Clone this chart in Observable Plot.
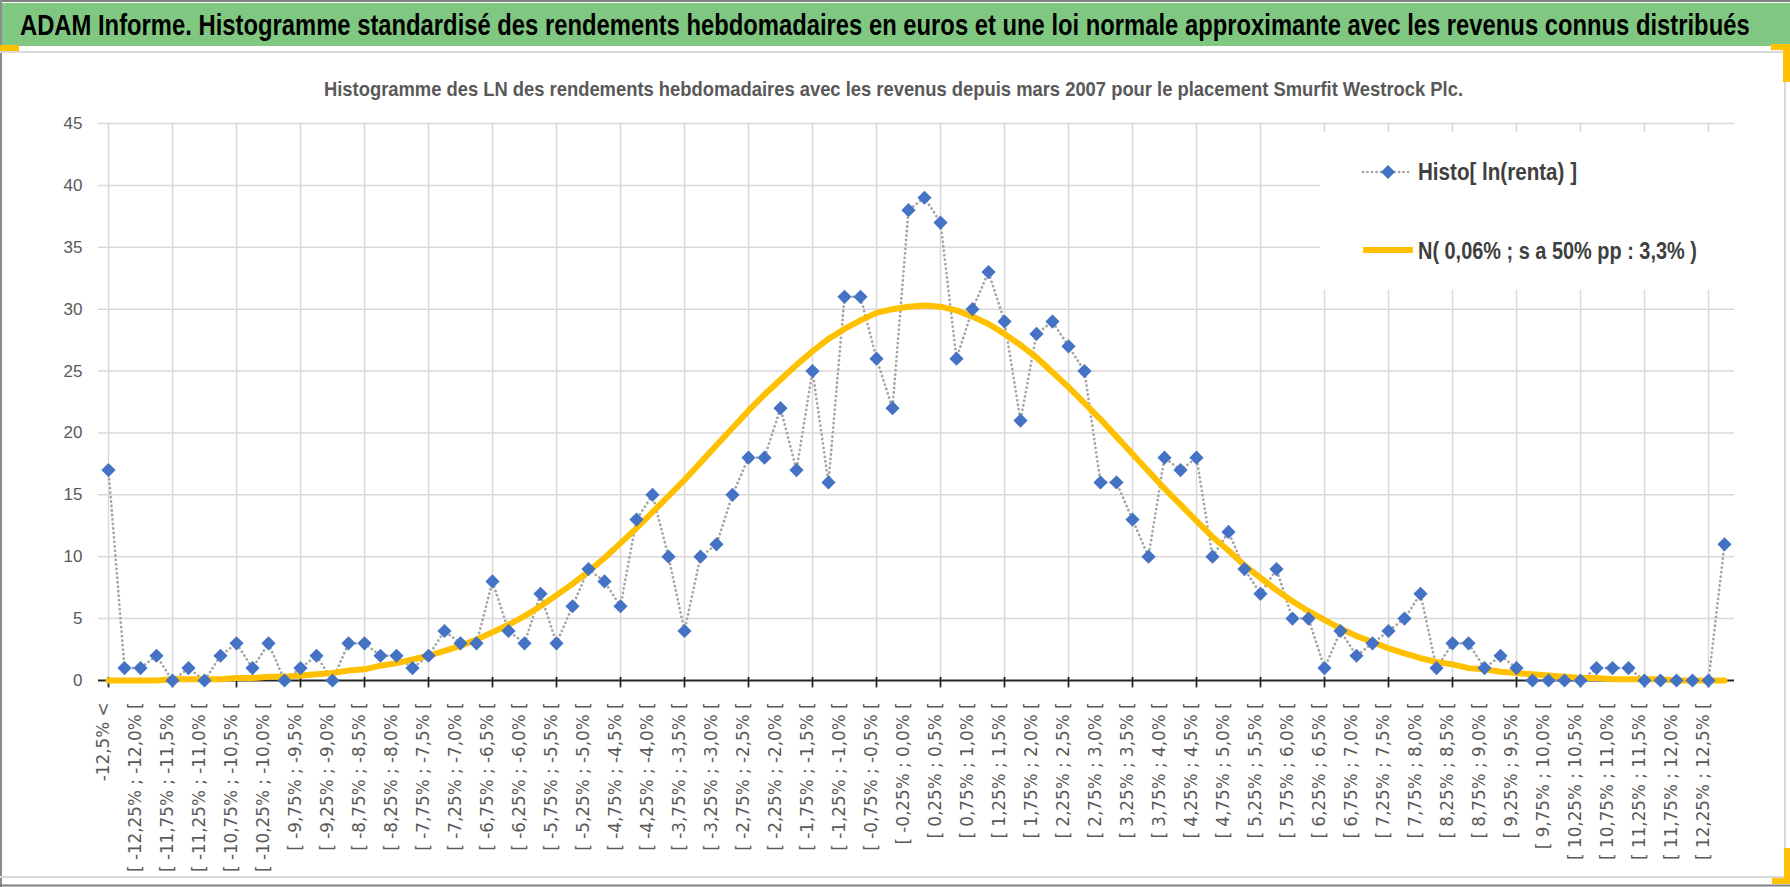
<!DOCTYPE html>
<html>
<head>
<meta charset="utf-8">
<script src="https://cdn.jsdelivr.net/npm/d3@7"></script>
<script src="https://cdn.jsdelivr.net/npm/@observablehq/plot@0.6"></script>
<style>
html, body { margin: 0; padding: 0; background: #fff; }
#wrap { position: relative; width: 1790px; height: 887px; overflow: hidden; background: #fff; }
#wrap > svg { position: absolute; left: 0; top: 0; }
#overlay { pointer-events: none; }
</style>
</head>
<body>
<div id="wrap"></div>
<script>
// ---------- DATA ----------
const mainTitle = "ADAM Informe. Histogramme standardisé des rendements hebdomadaires en euros et une loi normale approximante avec les revenus connus distribués";
const subTitle = "Histogramme  des LN des rendements hebdomadaires avec les revenus depuis mars 2007 pour le placement Smurfit Westrock  Plc.";
const seriesNames = ["Histo[ ln(renta) ]", "N( 0,06% ; s a 50% pp : 3,3% )"];

const categories = [
  "-12,5% <",
  "[ -12,5% ; -12,25% [", "[ -12,25% ; -12,0% [", "[ -12,0% ; -11,75% [", "[ -11,75% ; -11,5% [",
  "[ -11,5% ; -11,25% [", "[ -11,25% ; -11,0% [", "[ -11,0% ; -10,75% [", "[ -10,75% ; -10,5% [",
  "[ -10,5% ; -10,25% [", "[ -10,25% ; -10,0% [", "[ -10,0% ; -9,75% [", "[ -9,75% ; -9,5% [",
  "[ -9,5% ; -9,25% [", "[ -9,25% ; -9,0% [", "[ -9,0% ; -8,75% [", "[ -8,75% ; -8,5% [",
  "[ -8,5% ; -8,25% [", "[ -8,25% ; -8,0% [", "[ -8,0% ; -7,75% [", "[ -7,75% ; -7,5% [",
  "[ -7,5% ; -7,25% [", "[ -7,25% ; -7,0% [", "[ -7,0% ; -6,75% [", "[ -6,75% ; -6,5% [",
  "[ -6,5% ; -6,25% [", "[ -6,25% ; -6,0% [", "[ -6,0% ; -5,75% [", "[ -5,75% ; -5,5% [",
  "[ -5,5% ; -5,25% [", "[ -5,25% ; -5,0% [", "[ -5,0% ; -4,75% [", "[ -4,75% ; -4,5% [",
  "[ -4,5% ; -4,25% [", "[ -4,25% ; -4,0% [", "[ -4,0% ; -3,75% [", "[ -3,75% ; -3,5% [",
  "[ -3,5% ; -3,25% [", "[ -3,25% ; -3,0% [", "[ -3,0% ; -2,75% [", "[ -2,75% ; -2,5% [",
  "[ -2,5% ; -2,25% [", "[ -2,25% ; -2,0% [", "[ -2,0% ; -1,75% [", "[ -1,75% ; -1,5% [",
  "[ -1,5% ; -1,25% [", "[ -1,25% ; -1,0% [", "[ -1,0% ; -0,75% [", "[ -0,75% ; -0,5% [",
  "[ -0,5% ; -0,25% [", "[ -0,25% ; 0,0% [", "[ 0,0% ; 0,25% [", "[ 0,25% ; 0,5% [",
  "[ 0,5% ; 0,75% [", "[ 0,75% ; 1,0% [", "[ 1,0% ; 1,25% [", "[ 1,25% ; 1,5% [",
  "[ 1,5% ; 1,75% [", "[ 1,75% ; 2,0% [", "[ 2,0% ; 2,25% [", "[ 2,25% ; 2,5% [",
  "[ 2,5% ; 2,75% [", "[ 2,75% ; 3,0% [", "[ 3,0% ; 3,25% [", "[ 3,25% ; 3,5% [",
  "[ 3,5% ; 3,75% [", "[ 3,75% ; 4,0% [", "[ 4,0% ; 4,25% [", "[ 4,25% ; 4,5% [",
  "[ 4,5% ; 4,75% [", "[ 4,75% ; 5,0% [", "[ 5,0% ; 5,25% [", "[ 5,25% ; 5,5% [",
  "[ 5,5% ; 5,75% [", "[ 5,75% ; 6,0% [", "[ 6,0% ; 6,25% [", "[ 6,25% ; 6,5% [",
  "[ 6,5% ; 6,75% [", "[ 6,75% ; 7,0% [", "[ 7,0% ; 7,25% [", "[ 7,25% ; 7,5% [",
  "[ 7,5% ; 7,75% [", "[ 7,75% ; 8,0% [", "[ 8,0% ; 8,25% [", "[ 8,25% ; 8,5% [",
  "[ 8,5% ; 8,75% [", "[ 8,75% ; 9,0% [", "[ 9,0% ; 9,25% [", "[ 9,25% ; 9,5% [",
  "[ 9,5% ; 9,75% [", "[ 9,75% ; 10,0% [", "[ 10,0% ; 10,25% [", "[ 10,25% ; 10,5% [",
  "[ 10,5% ; 10,75% [", "[ 10,75% ; 11,0% [", "[ 11,0% ; 11,25% [", "[ 11,25% ; 11,5% [",
  "[ 11,5% ; 11,75% [", "[ 11,75% ; 12,0% [", "[ 12,0% ; 12,25% [", "[ 12,25% ; 12,5% [",
  "> 12,5%"
];

const histoValues = [
  17,
  1, 1, 2, 0, 1, 0, 2, 3, 1, 3,
  0, 1, 2, 0, 3, 3, 2, 2, 1, 2,
  4, 3, 3, 8, 4, 3, 7, 3, 6, 9,
  8, 6, 13, 15, 10, 4, 10, 11, 15, 18,
  18, 22, 17, 25, 16, 31, 31, 26, 22, 38,
  39, 37, 26, 30, 33, 29, 21, 28, 29, 27,
  25, 16, 16, 13, 10, 18, 17, 18, 10, 12,
  9, 7, 9, 5, 5, 1, 4, 2, 3, 4,
  5, 7, 1, 3, 3, 1, 2, 1, 0, 0,
  0, 0, 1, 1, 1, 0, 0, 0, 0, 0,
  11
];

const normValues = [
  0.0,
  0.0, 0.0, 0.0, 0.1, 0.1, 0.1, 0.1, 0.2, 0.2, 0.3,
  0.3, 0.4, 0.5, 0.6, 0.8, 0.9, 1.2, 1.4, 1.7, 2.0,
  2.4, 2.8, 3.3, 3.9, 4.5, 5.2, 6.0, 6.9, 7.8, 8.8,
  9.9, 11.1, 12.3, 13.6, 14.9, 16.2, 17.6, 19.0, 20.4, 21.8,
  23.1, 24.3, 25.5, 26.6, 27.6, 28.4, 29.1, 29.7, 30.0, 30.2,
  30.3, 30.2, 29.9, 29.4, 28.8, 28.0, 27.1, 26.1, 24.9, 23.7,
  22.4, 21.1, 19.7, 18.3, 16.9, 15.5, 14.2, 12.9, 11.6, 10.5,
  9.3, 8.3, 7.3, 6.4, 5.6, 4.9, 4.2, 3.6, 3.1, 2.6,
  2.2, 1.8, 1.5, 1.3, 1.0, 0.9, 0.7, 0.6, 0.5, 0.4,
  0.3, 0.2, 0.2, 0.1, 0.1, 0.1, 0.1, 0.0, 0.0, 0.0,
  0.0
];

const yTicks = [0, 5, 10, 15, 20, 25, 30, 35, 40, 45];

// ---------- BUILD ----------
const rows = categories.map((c, i) => ({cat: c, histo: histoValues[i], norm: normValues[i]}));
const labelCats = categories.filter((c, i) => i % 2 === 0);
const gridCats = categories.filter((c, i) => i % 4 === 0);

const W = 1790, H = 887;
const plot = Plot.plot({
  width: W,
  height: H,
  marginLeft: 98,
  marginRight: 56,
  marginTop: 123,
  marginBottom: 207,
  style: {fontFamily: "'Liberation Sans', Arial, sans-serif", background: "transparent", overflow: "visible"},
  x: {type: "point", domain: categories, padding: 0, axis: null},
  y: {domain: [0, 45]},
  marks: [
    Plot.ruleY(yTicks.filter(v => v > 0), {stroke: "#d9d9d9", strokeWidth: 1.5}),
    Plot.ruleX(gridCats, {x: d => d, stroke: "#d9d9d9", strokeWidth: 1.5}),
    Plot.axisY({ticks: yTicks, tickSize: 0, tickPadding: 16, fontSize: 17, color: "#595959", label: null}),
    Plot.ruleY([0], {stroke: "#262626", strokeWidth: 2}),
    Plot.ruleX(gridCats, {x: d => d, y1: 0.25, y2: -0.6, stroke: "#262626", strokeWidth: 1.8}),
    Plot.text(labelCats, {
      x: d => d, text: d => d, frameAnchor: "bottom", rotate: -90, textAnchor: "end",
      dy: 22, fontSize: 16.8, fontFamily: "'DejaVu Sans', sans-serif", fill: "#595959"
    }),
    Plot.line(rows, {x: "cat", y: "histo", stroke: "#a5a5a5", strokeWidth: 2.7, strokeDasharray: "0.1,4.4", strokeLinecap: "round"}),
    Plot.line(rows, {x: "cat", y: "norm", stroke: "#FFC000", strokeWidth: 6, strokeLinejoin: "round"}),
    Plot.dot(rows, {x: "cat", y: "histo", symbol: "diamond2", r: 6.4, fill: "#4472C4", stroke: "none"})
  ]
});

const wrap = document.getElementById("wrap");
wrap.appendChild(plot);

// ---------- OVERLAY (title band, subtitle, legend, frame) ----------
const ns = "http://www.w3.org/2000/svg";
const ov = document.createElementNS(ns, "svg");
ov.setAttribute("id", "overlay");
ov.setAttribute("width", W);
ov.setAttribute("height", H);
ov.setAttribute("viewBox", `0 0 ${W} ${H}`);
wrap.appendChild(ov);

function el(tag, attrs, text) {
  const e = document.createElementNS(ns, tag);
  for (const k in attrs) e.setAttribute(k, attrs[k]);
  if (text != null) e.textContent = text;
  ov.appendChild(e);
  return e;
}
// text squeezed horizontally to a target width (left x, baseline y)
function fitText(str, x, y, width, size, fill) {
  const t = el("text", {x: 0, y: 0, "font-family": "'Liberation Sans', Arial, sans-serif",
    "font-weight": "bold", "font-size": size, fill: fill}, str);
  const natural = t.getComputedTextLength() || width;
  const sx = width / natural;
  t.setAttribute("transform", `translate(${x},${y}) scale(${sx},1)`);
  return t;
}

// title band
el("rect", {x: 0, y: 3, width: W, height: 43, fill: "#80c882"});
fitText(mainTitle, 20, 35, 1730, 29.5, "#000");

// frame lines
el("line", {x1: 0, y1: 1, x2: W, y2: 1, stroke: "#7f7f7f", "stroke-width": 2});
el("line", {x1: 1, y1: 0, x2: 1, y2: H, stroke: "#8c8c8c", "stroke-width": 2});
el("line", {x1: 0, y1: 52, x2: 1785, y2: 52, stroke: "#d9d9d9", "stroke-width": 2});
el("line", {x1: 1785, y1: 52, x2: 1785, y2: 878, stroke: "#d9d9d9", "stroke-width": 2});
el("line", {x1: 0, y1: 877, x2: 1785, y2: 877, stroke: "#d9d9d9", "stroke-width": 2});
el("line", {x1: 0, y1: 885.5, x2: W, y2: 885.5, stroke: "#808080", "stroke-width": 2});

// selection handles (yellow corners)
el("rect", {x: 0, y: 45, width: 19, height: 6, fill: "#FFC000"});
el("rect", {x: 1771, y: 44, width: 19, height: 6, fill: "#FFC000"});
el("rect", {x: 1783, y: 44, width: 7, height: 38, fill: "#FFC000"});
el("rect", {x: 1784, y: 848, width: 6, height: 36, fill: "#FFC000"});
el("rect", {x: 1772, y: 878, width: 18, height: 6, fill: "#FFC000"});

// subtitle
fitText(subTitle, 324, 96, 1140, 21, "#595959");

// legend
el("rect", {x: 1320, y: 132, width: 414, height: 158, fill: "#fff"});
el("line", {x1: 1363, y1: 172, x2: 1410, y2: 172, stroke: "#a5a5a5", "stroke-width": 2.7,
  "stroke-dasharray": "0.1,4.4", "stroke-linecap": "round"});
el("path", {d: "M1388,165L1395,172L1388,179L1381,172Z", fill: "#4472C4"});
fitText(seriesNames[0], 1418, 180, 159, 24, "#404040");
el("line", {x1: 1363, y1: 250, x2: 1413, y2: 250, stroke: "#FFC000", "stroke-width": 6});
fitText(seriesNames[1], 1418, 259, 279, 24, "#404040");
</script>
</body>
</html>
